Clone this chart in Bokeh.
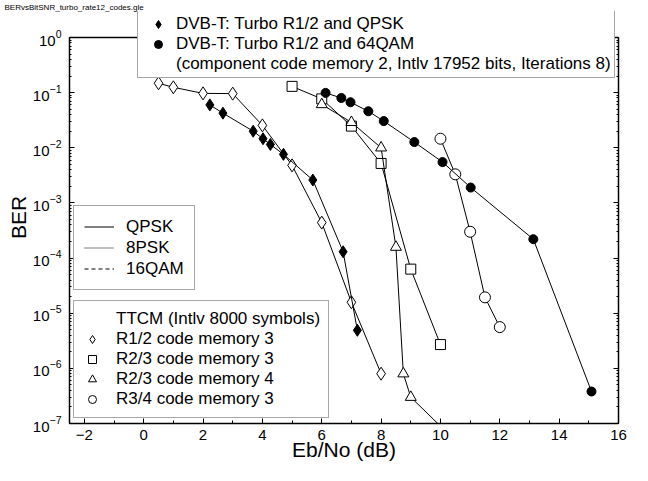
import numpy as np
from bokeh.plotting import figure
from bokeh.models import (Legend, LegendItem, LogAxis, Span, SingleIntervalTicker,
                          LogTicker, CustomJSTickFormatter, Range1d)
from bokeh.embed import file_html
from bokeh.resources import INLINE

file_label = "BERvsBitSNR_turbo_rate12_codes.gle"
x_label = "Eb/No (dB)"
y_label = "BER"

# TTCM R1/2 code memory 3 (open diamonds)
ttcm_r12_m3_ebno = [0.5, 1.0, 2.0, 3.0, 4.0, 5.0, 6.0, 7.0, 8.0]
ttcm_r12_m3_ber = [0.148, 0.125, 0.097, 0.096, 0.0255, 0.0048, 4.4e-4, 1.58e-5, 8.0e-7]

# TTCM R2/3 code memory 3 (open squares)
ttcm_r23_m3_ebno = [5.0, 6.0, 7.0, 8.0, 9.0, 10.0]
ttcm_r23_m3_ber = [0.13, 0.077, 0.0247, 0.0052, 6.3e-5, 2.7e-6]

# TTCM R2/3 code memory 4 (open triangles)
ttcm_r23_m4_ebno = [6.0, 7.0, 8.0, 8.5, 8.75, 9.0, 10.5]
ttcm_r23_m4_ber = [0.061, 0.029, 0.010, 1.58e-4, 8.0e-7, 3.0e-7, 4.9e-8]

# TTCM R3/4 code memory 3 (open circles)
ttcm_r34_m3_ebno = [10.0, 10.5, 11.0, 11.5, 12.0]
ttcm_r34_m3_ber = [0.0146, 0.0033, 3.0e-4, 1.94e-5, 5.6e-6]

# DVB-T turbo R1/2 + QPSK (filled diamonds)
dvbt_qpsk_ebno = [2.23, 2.67, 3.69, 4.02, 4.27, 4.71, 5.70, 6.72, 7.2]
dvbt_qpsk_ber = [0.06, 0.0425, 0.020, 0.0146, 0.0115, 0.0076, 0.0026, 1.3e-4, 4.9e-6]

# DVB-T turbo R1/2 + 64QAM (filled circles)
dvbt_64qam_ebno = [6.13, 6.66, 6.97, 7.57, 8.09, 9.12, 10.07, 11.02, 13.13, 15.09]
dvbt_64qam_ber = [0.099, 0.080, 0.067, 0.046, 0.0305, 0.0127, 0.0055, 0.0019, 2.2e-4, 3.8e-7]

legend_dvbt = ["DVB-T: Turbo R1/2 and QPSK", "DVB-T: Turbo R1/2 and 64QAM",
               "(component code memory 2, Intlv 17952 bits, Iterations 8)"]
legend_mod = ["QPSK", "8PSK", "16QAM"]
legend_ttcm = ["TTCM (Intlv 8000 symbols)", "R1/2 code memory 3", "R2/3 code memory 3",
               "R2/3 code memory 4", "R3/4 code memory 3"]

FONT = "Liberation Sans"
BER_MIN, BER_MAX = 1e-7, 1.0
# the frame reaches above BER = 1 so that the top legend box can overhang the axes box
BER_TOP = 10 ** (26 / 55.14)

p = figure(width=632, height=465, y_axis_type="log",
           x_range=Range1d(-2.5, 16), y_range=Range1d(BER_MIN, BER_TOP),
           output_backend="svg", toolbar_location=None,
           min_border_left=69, min_border_right=14, min_border_top=11, min_border_bottom=42)
p.xgrid.visible = False
p.ygrid.visible = False
p.outline_line_color = None

# file name caption at the top-left corner
p.title.text = file_label
p.title.align = "left"
p.title.offset = -65
p.title.standoff = 0
p.title.text_font = FONT
p.title.text_font_size = "8px"
p.title.text_font_style = "normal"
p.title.text_color = "black"

xt = SingleIntervalTicker(interval=2, num_minor_ticks=2)
yt = LogTicker(num_minor_ticks=10)
p.xaxis.ticker = xt
p.yaxis.ticker = yt
p.yaxis.bounds = (BER_MIN, BER_MAX)
blank = CustomJSTickFormatter(code="return ''")
p.add_layout(LogAxis(ticker=yt, formatter=blank, major_label_standoff=0,
                     bounds=(BER_MIN, BER_MAX)), "right")
# top edge of the axes box
p.add_layout(Span(location=BER_MAX, dimension="width", line_color="black", line_width=1.5))

for ax in p.axis:
    ax.major_tick_in = 5
    ax.major_tick_out = 0
    ax.minor_tick_in = 2
    ax.minor_tick_out = 0
    ax.axis_line_width = 1.5
    ax.axis_line_color = "black"
    ax.major_tick_line_color = "black"
    ax.minor_tick_line_color = "black"
    ax.major_label_text_font = FONT
    ax.major_label_text_font_size = "15px"
    ax.major_label_text_color = "black"
    ax.axis_label_text_font = FONT
    ax.axis_label_text_font_style = "normal"
    ax.axis_label_text_color = "black"
    ax.axis_label_text_font_size = "21px"
p.below[0].minor_tick_in = 3

p.below[0].axis_label = x_label
p.below[0].major_label_standoff = 6
p.below[0].axis_label_standoff = -5
p.left[0].axis_label = y_label
p.left[0].major_label_standoff = 8
p.left[0].axis_label_standoff = 0


def series(x, y, marker, size, fill):
    p.line(x, y, line_color="black", line_width=1)
    return p.scatter(x, y, marker=marker, size=size, fill_color=fill,
                     line_color="black", line_width=1)


r_d12 = series(ttcm_r12_m3_ebno, ttcm_r12_m3_ber, "diamond", 13, "white")
r_s23 = series(ttcm_r23_m3_ebno, ttcm_r23_m3_ber, "square", 10, "white")
r_t23 = series(ttcm_r23_m4_ebno, ttcm_r23_m4_ber, "triangle", 11, "white")
r_c34 = series(ttcm_r34_m3_ebno, ttcm_r34_m3_ber, "circle", 11, "white")
r_qpsk = series(dvbt_qpsk_ebno, dvbt_qpsk_ber, "diamond", 12, "black")
r_64 = series(dvbt_64qam_ebno, dvbt_64qam_ber, "circle", 9, "black")

nan = [np.nan]
r_blank = p.scatter(x=nan, y=nan, size=1, fill_alpha=0, line_alpha=0)
r_solid = p.line(x=nan, y=nan, line_color="black", line_width=1)
r_dot = p.line(x=nan, y=nan, line_color="black", line_width=1, line_dash="1 1")
r_dash = p.line(x=nan, y=nan, line_color="black", line_width=1, line_dash="4 3")


def make_legend(items, loc, gw, gh, padding, standoff):
    lg = Legend(items=items, location=loc, glyph_width=gw, glyph_height=gh,
                label_height=gh, spacing=0, padding=padding, margin=0,
                label_standoff=standoff, label_text_font=FONT,
                label_text_font_size="17px", label_text_color="black",
                border_line_color="#505050", border_line_width=1.5,
                background_fill_color="white", background_fill_alpha=1.0)
    p.add_layout(lg)
    return lg


make_legend([LegendItem(label=legend_dvbt[0], renderers=[r_qpsk]),
             LegendItem(label=legend_dvbt[1], renderers=[r_64]),
             LegendItem(label=legend_dvbt[2], renderers=[r_blank])],
            (68, 345), 34, 20, 3, 1)

make_legend([LegendItem(label=legend_mod[0], renderers=[r_solid]),
             LegendItem(label=legend_mod[1], renderers=[r_dot]),
             LegendItem(label=legend_mod[2], renderers=[r_dash])],
            (4, 133), 30, 21, 10, 12)

make_legend([LegendItem(label=legend_ttcm[0], renderers=[r_blank]),
             LegendItem(label=legend_ttcm[1], renderers=[r_d12]),
             LegendItem(label=legend_ttcm[2], renderers=[r_s23]),
             LegendItem(label=legend_ttcm[3], renderers=[r_t23]),
             LegendItem(label=legend_ttcm[4], renderers=[r_c34])],
            (4, 5), 20, 20, 8, 14)

open("out.html", "w").write(file_html(p, INLINE))
